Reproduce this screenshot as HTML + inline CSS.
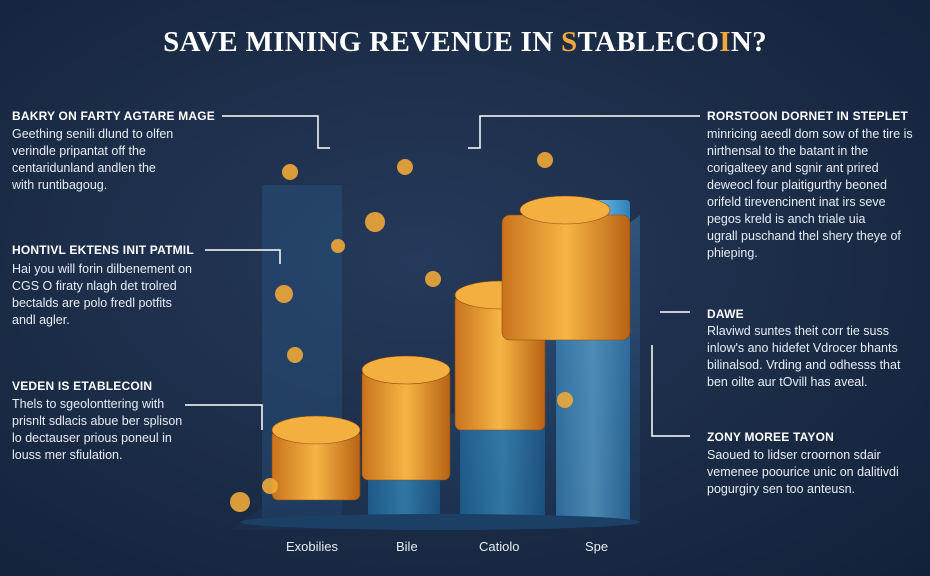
<!DOCTYPE html>
<html><head><meta charset="utf-8"><style>
html,body{margin:0;padding:0}
body{width:930px;height:576px;overflow:hidden;position:relative;background:radial-gradient(ellipse at 45% 45%,#25395a 0%,#1b2c47 55%,#13203a 100%);font-family:"Liberation Sans",sans-serif;color:#fff}
.t{position:absolute;white-space:nowrap}
h1{position:absolute;left:0;width:930px;top:26px;margin:0;text-align:center;font-family:"Liberation Serif",serif;font-size:29px;font-weight:bold;letter-spacing:0.3px;color:#fff}
.h{font-weight:bold;font-size:12px;letter-spacing:0.2px}
.b{font-size:12.5px;line-height:17px;color:#e8edf3}
.lab{font-size:13px;color:#e8edf3}
</style></head><body>
<h1>SAVE MINING REVENUE IN <span style="color:#f2a83a">S</span>TABLECO<span style="color:#f2a83a">I</span>N?</h1>
<svg width="930" height="576" style="position:absolute;left:0;top:0">
<defs>
<linearGradient id="bar" x1="0" x2="1"><stop offset="0" stop-color="#1f6fa8"/><stop offset=".5" stop-color="#3ea4dc"/><stop offset="1" stop-color="#1b5f95"/></linearGradient>
<linearGradient id="bar2" x1="0" x2="1"><stop offset="0" stop-color="#3c8fc8"/><stop offset=".5" stop-color="#6fc3ee"/><stop offset="1" stop-color="#2f7fb8"/></linearGradient>
<linearGradient id="coin" x1="0" x2="1"><stop offset="0" stop-color="#c9731c"/><stop offset=".5" stop-color="#f6b545"/><stop offset="1" stop-color="#b86214"/></linearGradient>
<linearGradient id="wave" x1="0" y1="0" x2="0" y2="1"><stop offset="0" stop-color="#3b6f9e" stop-opacity=".8"/><stop offset="1" stop-color="#1a3556" stop-opacity=".6"/></linearGradient>
</defs>
<rect x="262" y="185" width="80" height="340" fill="#2a5e8e" opacity=".35"/>
<rect x="368" y="400" width="72" height="125" rx="4" fill="url(#bar)"/>
<rect x="460" y="305" width="85" height="220" rx="4" fill="url(#bar)"/>
<rect x="556" y="200" width="74" height="325" rx="4" fill="url(#bar2)"/>
<path d="M230 530 C300 480 380 450 440 420 C500 390 560 330 620 230 L640 215 L640 525 L230 530Z" fill="url(#wave)" opacity=".7"/>
<ellipse cx="440" cy="522" rx="200" ry="8" fill="#1c3f66"/>
<g fill="url(#coin)" stroke="#8a4a10" stroke-width="0.6">
<rect x="272" y="430" width="88" height="70" rx="6"/><ellipse cx="316" cy="430" rx="44" ry="14" fill="#f3b040"/>
<rect x="362" y="370" width="88" height="110" rx="6"/><ellipse cx="406" cy="370" rx="44" ry="14" fill="#f3b040"/>
<rect x="455" y="295" width="90" height="135" rx="6"/><ellipse cx="500" cy="295" rx="45" ry="14" fill="#f3b040"/>
<rect x="502" y="215" width="128" height="125" rx="8"/><ellipse cx="565" cy="210" rx="45" ry="14" fill="#f3b040"/>
</g>
<g fill="#f0a838" opacity=".9">
<circle cx="290" cy="172" r="8"/><circle cx="405" cy="167" r="8"/><circle cx="545" cy="160" r="8"/><circle cx="375" cy="222" r="10"/><circle cx="338" cy="246" r="7"/><circle cx="433" cy="279" r="8"/><circle cx="284" cy="294" r="9"/><circle cx="295" cy="355" r="8"/><circle cx="240" cy="502" r="10"/><circle cx="270" cy="486" r="8"/><circle cx="565" cy="400" r="8"/>
</g>
<g stroke="#fff" stroke-width="1.5" fill="none">
<path d="M222 116 H318 V148 H330"/>
<path d="M205 250 H280 V264"/>
<path d="M185 405 H262 V430"/>
<path d="M700 116 H480 V148 H468"/>
<path d="M690 312 H660"/>
<path d="M652 345 V436 H690"/>
</g>
</svg>
<div class="t h" style="left:12px;top:109px">BAKRY ON FARTY AGTARE MAGE</div>
<div class="t b" style="left:12px;top:126px">Geething senili dlund to olfen<br>verindle pripantat off the<br>centaridunland andlen the<br>with runtibagoug.</div>
<div class="t h" style="left:12px;top:243px">HONTIVL EKTENS INIT PATMIL</div>
<div class="t b" style="left:12px;top:261px">Hai you will forin dilbenement on<br>CGS O firaty nlagh det trolred<br>bectalds are polo fredl potfits<br>andl agler.</div>
<div class="t h" style="left:12px;top:379px">VEDEN IS ETABLECOIN</div>
<div class="t b" style="left:12px;top:396px">Thels to sgeolonttering with<br>prisnlt sdlacis abue ber splison<br>lo dectauser prious poneul in<br>louss mer sfiulation.</div>
<div class="t h" style="left:707px;top:109px">RORSTOON DORNET IN STEPLET</div>
<div class="t b" style="left:707px;top:126px">minricing aeedl dom sow of the tire is<br>nirthensal to the batant in the<br>corigalteey and sgnir ant prired<br>deweocl four plaitigurthy beoned<br>orifeld tirevencinent inat irs seve<br>pegos kreld is anch triale uia<br>ugrall puschand thel shery theye of<br>phieping.</div>
<div class="t h" style="left:707px;top:307px">DAWE</div>
<div class="t b" style="left:707px;top:323px">Rlaviwd suntes theit corr tie suss<br>inlow's ano hidefet Vdrocer bhants<br>bilinalsod. Vrding and odhesss that<br>ben oilte aur tOvill has aveal.</div>
<div class="t h" style="left:707px;top:430px">ZONY MOREE TAYON</div>
<div class="t b" style="left:707px;top:447px">Saoued to lidser croornon sdair<br>vemenee poourice unic on dalitivdi<br>pogurgiry sen too anteusn.</div>
<div class="t lab" style="left:286px;top:539px">Exobilies</div>
<div class="t lab" style="left:396px;top:539px">Bile</div>
<div class="t lab" style="left:479px;top:539px">Catiolo</div>
<div class="t lab" style="left:585px;top:539px">Spe</div>
</body></html>
